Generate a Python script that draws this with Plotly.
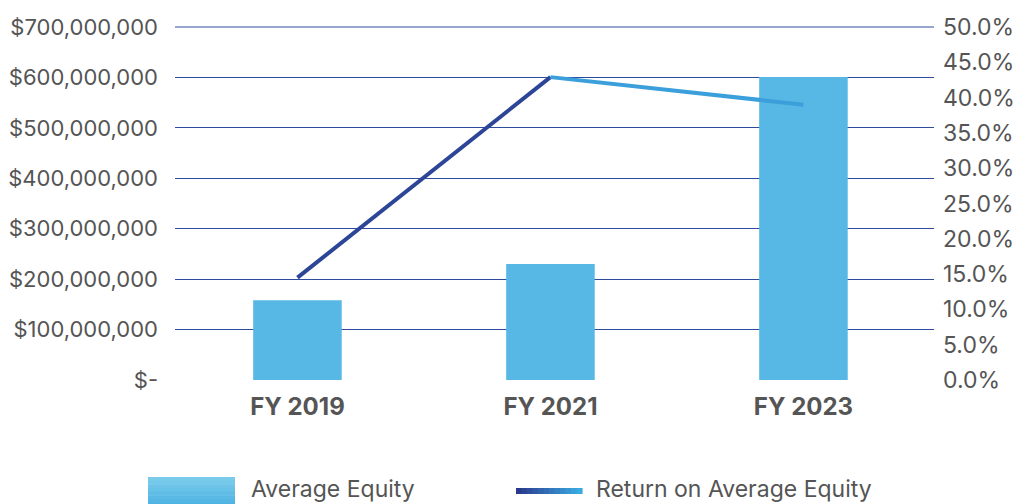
import plotly.graph_objects as go

categories = ["FY 2019", "FY 2021", "FY 2023"]
average_equity = [158_000_000, 230_000_000, 601_000_000]
return_on_avg_equity = [0.145, 0.429, 0.390]
left_tick_vals = [0, 100_000_000, 200_000_000, 300_000_000, 400_000_000, 500_000_000, 600_000_000, 700_000_000]
left_tick_text = ["$-", "$100,000,000", "$200,000,000", "$300,000,000", "$400,000,000",
                  "$500,000,000", "$600,000,000", "$700,000,000"]

W, H = 1022, 504
OFF = 8  # page body margin
# plot area in screen pixels
SX0, SX1, SY0, SY1 = 175, 934, 27, 380
ML, MT = SX0 - OFF, SY0 - OFF
MR, MB = W - (SX1 - OFF), H - (SY1 - OFF)
PW, PH = SX1 - SX0, SY1 - SY0

def px(x):
    return (x - SX0) / PW

def py(y):
    return (SY1 - y) / PH

FONT = "Inter"
GREY = "#555555"
GRID = "#2F4C9C"

fig = go.Figure()
fig.add_trace(go.Bar(
    x=categories, y=average_equity, name="Average Equity",
    marker=dict(color="#58B8E5", line=dict(width=0)), width=0.35,
    showlegend=False,
))
# line, drawn as two segments to approximate the gradient
fig.add_trace(go.Scatter(
    x=categories[0:2], y=return_on_avg_equity[0:2], yaxis="y2", mode="lines",
    line=dict(color="#2C4596", width=4), showlegend=False,
))
fig.add_trace(go.Scatter(
    x=categories[1:3], y=return_on_avg_equity[1:3], yaxis="y2", mode="lines",
    line=dict(color="#3A9FDA", width=4), showlegend=False,
))

shapes = []
# top gridline (axis edge)
shapes.append(dict(type="line", xref="paper", yref="paper", x0=0, x1=1, y0=1, y1=1,
                   line=dict(color=GRID, width=1), layer="below"))
# legend swatch for bars (vertical gradient bands)
top_c, bot_c = (0x7A, 0xCB, 0xEA), (0x4F, 0xB3, 0xE3)
n = 8
y0, y1 = 477, 506
for i in range(n):
    t = i / (n - 1)
    c = tuple(round(top_c[k] + (bot_c[k] - top_c[k]) * t) for k in range(3))
    ya = y0 + (y1 - y0) * i / n
    yb = y0 + (y1 - y0) * (i + 1) / n
    shapes.append(dict(type="rect", xref="paper", yref="paper",
                       x0=px(148), x1=px(235), y0=py(ya), y1=py(yb + 0.5),
                       fillcolor="rgb(%d,%d,%d)" % c, line=dict(width=0), layer="above"))
# legend swatch for line (horizontal gradient)
lc0, lc1 = (0x2A, 0x3B, 0x8E), (0x3A, 0xAA, 0xE2)
n = 12
xa0, xa1 = 516, 582
for i in range(n):
    t = i / (n - 1)
    c = tuple(round(lc0[k] + (lc1[k] - lc0[k]) * t) for k in range(3))
    xa = xa0 + (xa1 - xa0) * i / n
    xb = xa0 + (xa1 - xa0) * (i + 1) / n
    shapes.append(dict(type="line", xref="paper", yref="paper",
                       x0=px(xa), x1=px(xb + 0.6), y0=py(491), y1=py(491),
                       line=dict(color="rgb(%d,%d,%d)" % c, width=6), layer="above"))

annotations = [
    dict(text="Average Equity", xref="paper", yref="paper", x=px(249), y=py(489),
         xanchor="left", yanchor="middle", showarrow=False,
         font=dict(family=FONT, size=23, color=GREY)),
    dict(text="Return on Average Equity", xref="paper", yref="paper", x=px(594), y=py(489),
         xanchor="left", yanchor="middle", showarrow=False,
         font=dict(family=FONT, size=23, color=GREY)),
]

fig.update_layout(
    width=W, height=H,
    margin=dict(l=ML, r=MR, t=MT, b=MB, pad=0),
    paper_bgcolor="white", plot_bgcolor="white",
    font=dict(family=FONT, size=22, color=GREY),
    bargap=0.65,
    xaxis=dict(type="category", range=[-0.484, 2.516], showgrid=False, zeroline=False,
               showline=False, ticks="", automargin=False,
               tickfont=dict(family=FONT, size=24, color=GREY, weight="bold"),
               ticklabelstandoff=10, fixedrange=True),
    yaxis=dict(range=[0, 700_000_000], tickvals=left_tick_vals, ticktext=left_tick_text,
               showgrid=True, gridcolor=GRID, gridwidth=1, zeroline=False, showline=False,
               ticks="", ticklabelstandoff=16, automargin=False,
               tickfont=dict(family=FONT, size=22, color=GREY)),
    yaxis2=dict(range=[0, 0.5], dtick=0.05, tickformat=".1%", overlaying="y", side="right",
                showgrid=False, zeroline=False, showline=False, ticks="", automargin=False,
                ticklabelstandoff=8, tickfont=dict(family=FONT, size=23, color=GREY)),
    shapes=shapes, annotations=annotations,
    showlegend=False,
)

fig.write_html("out.html")
